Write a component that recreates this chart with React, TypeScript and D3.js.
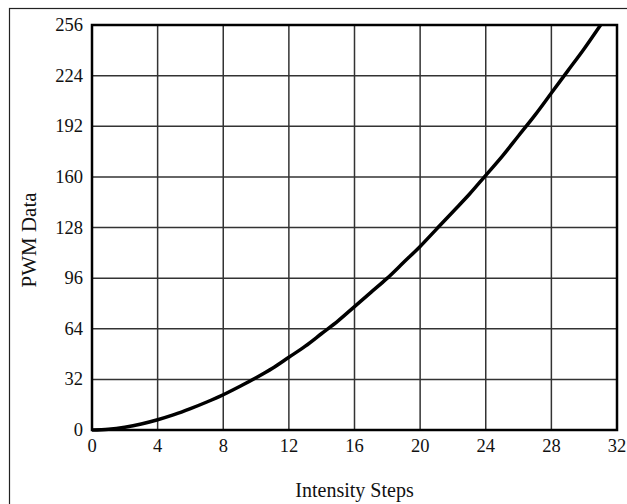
import { useEffect, useRef } from 'react';
import * as d3 from 'd3';

// Pasos de intensidad y valor PWM
const pasos = [0, 1, 2, 3, 4, 5, 6, 7, 8, 9, 10, 11, 12, 13, 14, 15, 16, 17, 18, 19, 20, 21, 22, 23, 24, 25, 26, 27, 28, 29, 30, 31];
const pwm = [0, 0.5, 1.8, 3.8, 6.5, 9.7, 13.5, 17.7, 22.3, 27.5, 33, 39, 46, 53, 61, 69, 78, 87, 96, 106, 116, 127, 138, 149, 161, 173, 186, 199, 213, 227, 241, 256];
const ticksX = [0, 4, 8, 12, 16, 20, 24, 28, 32];
const ticksY = [0, 32, 64, 96, 128, 160, 192, 224, 256];

const FONT = '"Liberation Serif", "Times New Roman", serif';

export default function App() {
  const ref = useRef<SVGSVGElement>(null);

  useEffect(() => {
    const width = 627;
    const height = 504;
    const margin = { top: 25, right: 10, bottom: 74, left: 92 };
    const svg = d3.select(ref.current);
    svg.selectAll('*').remove();

    const x = d3.scaleLinear().domain([0, 32]).range([margin.left, width - margin.right]);
    const y = d3.scaleLinear().domain([0, 256]).range([height - margin.bottom, margin.top]);

    // Marco exterior
    svg.append('rect')
      .attr('x', 9.5).attr('y', 8.5)
      .attr('width', 640).attr('height', 520)
      .attr('fill', 'none').attr('stroke', '#222').attr('stroke-width', 1.2);

    // Rejilla
    svg.append('g').selectAll('line').data(ticksX.slice(1, -1)).join('line')
      .attr('x1', d => x(d)).attr('x2', d => x(d))
      .attr('y1', y(0)).attr('y2', y(256))
      .attr('stroke', '#333').attr('stroke-width', 1.5);
    svg.append('g').selectAll('line').data(ticksY.slice(1, -1)).join('line')
      .attr('x1', x(0)).attr('x2', x(32))
      .attr('y1', d => y(d)).attr('y2', d => y(d))
      .attr('stroke', '#333').attr('stroke-width', 1.5);

    // Curva
    const linea = d3.line<number>().x((d, i) => x(pasos[i])).y(d => y(d)).curve(d3.curveMonotoneX);
    svg.append('path')
      .attr('d', linea(pwm))
      .attr('fill', 'none').attr('stroke', '#000').attr('stroke-width', 3.5);

    // Borde del area de trazado
    svg.append('rect')
      .attr('x', x(0)).attr('y', y(256))
      .attr('width', x(32) - x(0)).attr('height', y(0) - y(256))
      .attr('fill', 'none').attr('stroke', '#000').attr('stroke-width', 2.5);

    // Etiquetas de ejes
    svg.append('g').selectAll('text').data(ticksX).join('text')
      .attr('x', d => x(d)).attr('y', y(0) + 22)
      .attr('text-anchor', 'middle')
      .attr('font-family', FONT).attr('font-size', 18.5).attr('fill', '#111')
      .text(d => d);
    svg.append('g').selectAll('text').data(ticksY).join('text')
      .attr('x', x(0) - 9).attr('y', d => y(d) + 6)
      .attr('text-anchor', 'end')
      .attr('font-family', FONT).attr('font-size', 18.5).attr('fill', '#111')
      .text(d => d);

    svg.append('text')
      .attr('x', (x(0) + x(32)) / 2).attr('y', 497)
      .attr('text-anchor', 'middle')
      .attr('font-family', FONT).attr('font-size', 20).attr('fill', '#111')
      .text('Intensity Steps');
    svg.append('text')
      .attr('transform', `translate(36,240) rotate(-90)`)
      .attr('text-anchor', 'middle')
      .attr('font-family', FONT).attr('font-size', 21).attr('fill', '#111')
      .text('PWM Data');
  }, []);

  return (
    <svg ref={ref} width={627} height={504}
      style={{ position: 'absolute', left: 0, top: 0, background: '#fff' }} />
  );
}
